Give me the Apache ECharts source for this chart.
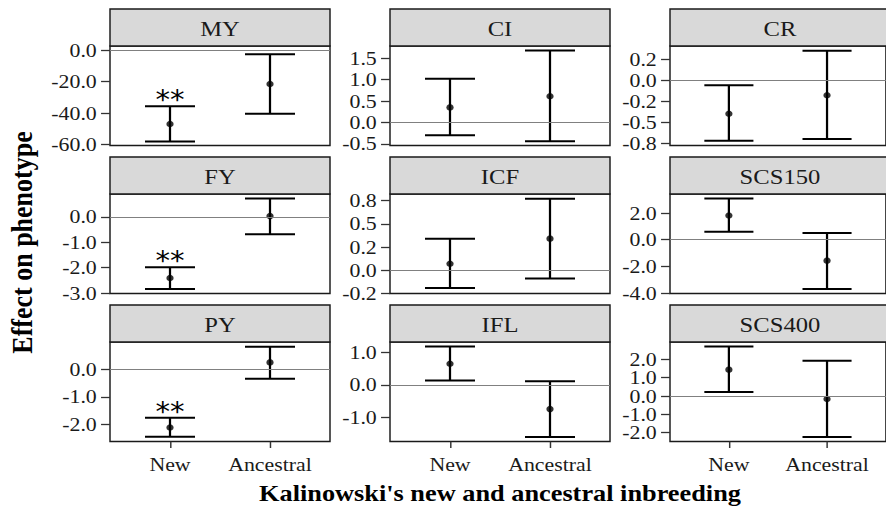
<!DOCTYPE html>
<html>
<head>
<meta charset="utf-8">
<script src="https://cdn.jsdelivr.net/npm/echarts@6/dist/echarts.min.js"></script>
<style>
  html, body { margin: 0; padding: 0; background: #fff; overflow: hidden; }
  #chart { height: 510px; transform-origin: 0 0; }
</style>
</head>
<body>
<div id="chart"></div>
<script>
// ---- data -------------------------------------------------------------
const categories = ['New', 'Ancestral'];
const traits = ['MY', 'CI', 'CR', 'FY', 'ICF', 'SCS150', 'PY', 'IFL', 'SCS400'];

const estimateNew = [-47.0, 0.35, -0.40, -2.41, 0.07, 1.82, -2.11, 0.65, 1.44];
const lowerNew    = [-58.1, -0.30, -0.72, -2.84, -0.19, 0.60, -2.45, 0.13, 0.22];
const upperNew    = [-35.7, 1.02, -0.06, -1.99, 0.34, 3.09, -1.76, 1.18, 2.70];

const estimateAnc = [-21.5, 0.61, -0.18, 0.03, 0.34, -1.57, 0.25, -0.75, -0.16];
const lowerAnc    = [-40.4, -0.44, -0.70, -0.69, -0.09, -3.69, -0.34, -1.61, -2.23];
const upperAnc    = [-2.55, 1.68, 0.35, 0.72, 0.77, 0.50, 0.82, 0.11, 1.92];

const significanceNew = ['**', '', '', '**', '', '', '**', '', ''];

const yLimits = [
  [-60.7, 2.7], [-0.54, 1.785], [-0.777, 0.406],
  [-3.02, 0.90], [-0.25, 0.82], [-4.03, 3.43],
  [-2.62, 0.99], [-1.75, 1.32], [-2.48, 2.95]
];
const yTicks = [
  [-60, -40, -20, 0], [-0.5, 0, 0.5, 1, 1.5], [-0.75, -0.5, -0.25, 0, 0.25],
  [-3, -2, -1, 0], [-0.25, 0, 0.25, 0.5, 0.75], [-4, -2, 0, 2],
  [-2, -1, 0], [-1, 0, 1], [-2, -1, 0, 1, 2]
];
const yTickLabels = [
  ['-60.0', '-40.0', '-20.0', '0.0'], ['-0.5', '0.0', '0.5', '1.0', '1.5'], ['-0.8', '-0.5', '-0.2', '0.0', '0.2'],
  ['-3.0', '-2.0', '-1.0', '0.0'], ['-0.2', '0.0', '0.2', '0.5', '0.8'], ['-4.0', '-2.0', '0.0', '2.0'],
  ['-2.0', '-1.0', '0.0'], ['-1.0', '0.0', '1.0'], ['-2.0', '-1.0', '0.0', '1.0', '2.0']
];

const xTitle = "Kalinowski's new and ancestral inbreeding";
const yTitle = 'Effect on phenotype';

// ---- layout (page pixels; the canvas is widened horizontally by SX) ----
const SX = 1.12;
const sx = v => v / SX;
const PAGE_W = 886;
const colLeft = [110, 390, 670];
const rowTop = [46, 194, 342];
const panelW = 220;
const panelH = 99.5;
const stripH = 37;
const serif = 'Liberation Serif';
const ink = '#1a1a1a';

const chartEl = document.getElementById('chart');
chartEl.style.width = sx(PAGE_W) + 'px';
chartEl.style.transform = 'scaleX(' + SX + ')';

const chart = echarts.init(chartEl, null, { renderer: 'svg' });

function labelFor(i) {
  return v => {
    const k = yTicks[i].findIndex(t => Math.abs(t - v) < 1e-9);
    return k >= 0 ? yTickLabels[i][k] : '';
  };
}

// error bar: vertical whisker plus caps, half-width 0.25 on the x scale
function renderErrorBar(params, api) {
  const x = api.value(0), lo = api.value(1), hi = api.value(2);
  const top = api.coord([x, hi]);
  const bot = api.coord([x, lo]);
  const l = api.coord([x - 0.25, hi])[0];
  const r = api.coord([x + 0.25, hi])[0];
  const style = { stroke: '#000', lineWidth: 2, fill: null };
  return {
    type: 'group',
    children: [
      { type: 'line', shape: { x1: top[0], y1: top[1], x2: bot[0], y2: bot[1] }, style },
      { type: 'line', shape: { x1: l, y1: top[1], x2: r, y2: top[1] }, style },
      { type: 'line', shape: { x1: l, y1: bot[1], x2: r, y2: bot[1] }, style }
    ]
  };
}

// y axis for one panel; ticks are split over two stacked axes so that
// closely spaced labels are all kept
function makeYAxis(i, values) {
  return {
    type: 'value', gridIndex: i, position: 'left',
    min: yLimits[i][0], max: yLimits[i][1],
    splitLine: { show: false }, axisLine: { show: false, onZero: false },
    axisTick: { show: true, customValues: values, length: 8, lineStyle: { color: '#333', width: 1.3 } },
    axisLabel: {
      customValues: values, formatter: labelFor(i),
      hideOverlap: false, showMinLabel: true, showMaxLabel: true,
      margin: 11.8, fontFamily: serif, fontSize: 19.5, lineHeight: 15, color: ink
    }
  };
}

const grids = [], xAxes = [], yAxes = [], yAxesAlt = [], series = [], graphics = [];

traits.forEach((name, i) => {
  const col = i % 3, row = Math.floor(i / 3);
  const bottomRow = row === 2;

  grids.push({
    left: sx(colLeft[col]), top: rowTop[row], width: sx(panelW), height: panelH,
    show: true, backgroundColor: '#fff', borderColor: ink, borderWidth: 1.3
  });

  xAxes.push({
    type: 'value', gridIndex: i, min: 0.4, max: 2.6,
    splitLine: { show: false }, axisLine: { show: false, onZero: false },
    axisTick: { show: bottomRow, customValues: [1, 2], length: 6.5, lineStyle: { color: '#333', width: 1.3 } },
    axisLabel: {
      show: bottomRow, customValues: [1, 2], hideOverlap: false,
      formatter: v => categories[Math.round(v) - 1],
      margin: 12.5, fontFamily: serif, fontSize: 19.5, color: ink
    }
  });

  yAxes.push(makeYAxis(i, yTicks[i].filter((_, k) => k % 2 === 0)));
  yAxesAlt.push(makeYAxis(i, yTicks[i].filter((_, k) => k % 2 === 1)));

  // reference line at zero
  series.push({
    type: 'line', xAxisIndex: i, yAxisIndex: i, data: [], z: 1, silent: true,
    markLine: {
      silent: true, symbol: 'none', label: { show: false },
      lineStyle: { color: '#808080', width: 1, type: 'solid' },
      data: [{ yAxis: 0 }]
    }
  });

  series.push({
    type: 'custom', xAxisIndex: i, yAxisIndex: i, z: 3, silent: true,
    renderItem: renderErrorBar,
    data: [[1, lowerNew[i], upperNew[i]], [2, lowerAnc[i], upperAnc[i]]]
  });

  series.push({
    type: 'scatter', xAxisIndex: i, yAxisIndex: i, z: 4, silent: true,
    symbol: 'circle', symbolSize: 6.5, itemStyle: { color: '#000' },
    data: [[1, estimateNew[i]], [2, estimateAnc[i]]]
  });

  if (significanceNew[i]) {
    series.push({
      type: 'custom', xAxisIndex: i, yAxisIndex: i, z: 4, silent: true,
      data: [[1, upperNew[i]]],
      renderItem: (params, api) => {
        const p = api.coord([api.value(0), api.value(1)]);
        return {
          type: 'text', x: p[0], y: p[1] - 6,
          style: {
            text: significanceNew[i], fill: '#000',
            fontFamily: 'DejaVu Sans', fontSize: 26,
            align: 'center', verticalAlign: 'middle'
          }
        };
      }
    });
  }

  // facet strip
  graphics.push({
    type: 'rect', silent: true,
    shape: { x: sx(colLeft[col]), y: rowTop[row] - stripH, width: sx(panelW), height: stripH },
    style: { fill: '#d9d9d9', stroke: ink, lineWidth: 1.3 }
  });
  graphics.push({
    type: 'text', silent: true,
    x: sx(colLeft[col] + panelW / 2), y: rowTop[row] - stripH / 2 + 1,
    style: { text: name, fill: ink, fontFamily: serif, fontSize: 22, align: 'center', verticalAlign: 'middle' }
  });
});

graphics.push({
  type: 'text', silent: true,
  x: sx(500), y: 492.5,
  style: { text: xTitle, fill: '#000', fontFamily: serif, fontWeight: 'bold', fontSize: 23.5, align: 'center', verticalAlign: 'middle' }
});
graphics.push({
  type: 'text', silent: true,
  x: sx(22), y: 242.5, rotation: Math.PI / 2,
  style: { text: yTitle, fill: '#000', fontFamily: serif, fontWeight: 'bold', fontSize: 26, align: 'center', verticalAlign: 'middle' }
});

chart.setOption({
  backgroundColor: '#fff',
  animation: false,
  grid: grids,
  xAxis: xAxes,
  yAxis: yAxes.concat(yAxesAlt),
  series: series,
  graphic: graphics
});
</script>
</body>
</html>
